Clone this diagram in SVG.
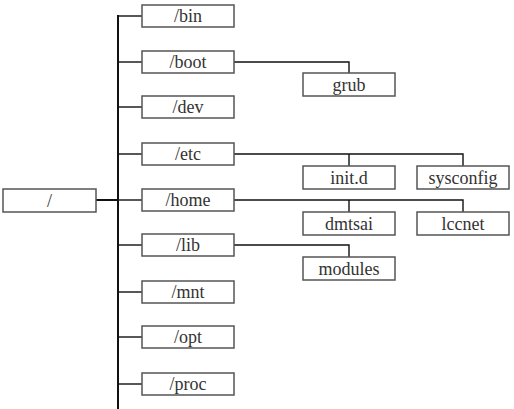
<svg xmlns="http://www.w3.org/2000/svg" width="514" height="409" viewBox="0 0 514 409">
<style>
.box{fill:#fff;stroke:#555;stroke-width:1.5}
.lbl{font-size:18px;fill:#333;text-anchor:middle}
.ln{stroke:#111;stroke-width:1.4;fill:none}
.trunk{stroke:#111;stroke-width:2;fill:none}
</style>
<rect width="514" height="409" fill="#fff"/>
<g id="connectors">
<line class="trunk" x1="118" y1="15" x2="118" y2="409"/>
<line class="trunk" x1="96" y1="200" x2="118" y2="200"/>
<line class="ln" x1="118" y1="16" x2="142" y2="16"/>
<line class="ln" x1="118" y1="62" x2="142" y2="62"/>
<line class="ln" x1="118" y1="107" x2="142" y2="107"/>
<line class="ln" x1="118" y1="154" x2="142" y2="154"/>
<line class="ln" x1="118" y1="200" x2="142" y2="200"/>
<line class="ln" x1="118" y1="245" x2="142" y2="245"/>
<line class="ln" x1="118" y1="292" x2="142" y2="292"/>
<line class="ln" x1="118" y1="337" x2="142" y2="337"/>
<line class="ln" x1="118" y1="384" x2="142" y2="384"/>
<polyline class="ln" points="234,62 349,62 349,73"/>
<polyline class="ln" points="234,154 463,154 463,166"/>
<line class="ln" x1="349" y1="154" x2="349" y2="166"/>
<polyline class="ln" points="234,200 463,200 463,212"/>
<line class="ln" x1="349" y1="200" x2="349" y2="212"/>
<polyline class="ln" points="234,245 349,245 349,257"/>
</g>
<g font-family="Liberation Serif, serif">
<g id="root"><rect class="box" x="3" y="189" width="93" height="23"/><text class="lbl" x="49.5" y="206.5">/</text></g>
<g id="bin"><rect class="box" x="142" y="5" width="92" height="22"/><text class="lbl" x="188" y="22">/bin</text></g>
<g id="boot"><rect class="box" x="142" y="51" width="92" height="22"/><text class="lbl" x="188" y="68">/boot</text></g>
<g id="dev"><rect class="box" x="142" y="96" width="92" height="22"/><text class="lbl" x="188" y="113">/dev</text></g>
<g id="etc"><rect class="box" x="142" y="143" width="92" height="22"/><text class="lbl" x="188" y="160">/etc</text></g>
<g id="home"><rect class="box" x="142" y="189" width="92" height="22"/><text class="lbl" x="188" y="206">/home</text></g>
<g id="lib"><rect class="box" x="142" y="234" width="92" height="22"/><text class="lbl" x="188" y="251">/lib</text></g>
<g id="mnt"><rect class="box" x="142" y="281" width="92" height="22"/><text class="lbl" x="188" y="298">/mnt</text></g>
<g id="opt"><rect class="box" x="142" y="326" width="92" height="22"/><text class="lbl" x="188" y="343">/opt</text></g>
<g id="proc"><rect class="box" x="142" y="373" width="92" height="22"/><text class="lbl" x="188" y="390">/proc</text></g>
<g id="grub"><rect class="box" x="303" y="73" width="92" height="23"/><text class="lbl" x="349" y="90.5">grub</text></g>
<g id="initd"><rect class="box" x="303" y="166" width="92" height="23"/><text class="lbl" x="349" y="183.5">init.d</text></g>
<g id="sysconfig"><rect class="box" x="417" y="166" width="92" height="23"/><text class="lbl" x="463" y="183.5">sysconfig</text></g>
<g id="dmtsai"><rect class="box" x="303" y="212" width="92" height="23"/><text class="lbl" x="349" y="229.5">dmtsai</text></g>
<g id="lccnet"><rect class="box" x="417" y="212" width="92" height="23"/><text class="lbl" x="463" y="229.5">lccnet</text></g>
<g id="modules"><rect class="box" x="303" y="257" width="92" height="23"/><text class="lbl" x="349" y="274.5">modules</text></g>
</g>
</svg>
